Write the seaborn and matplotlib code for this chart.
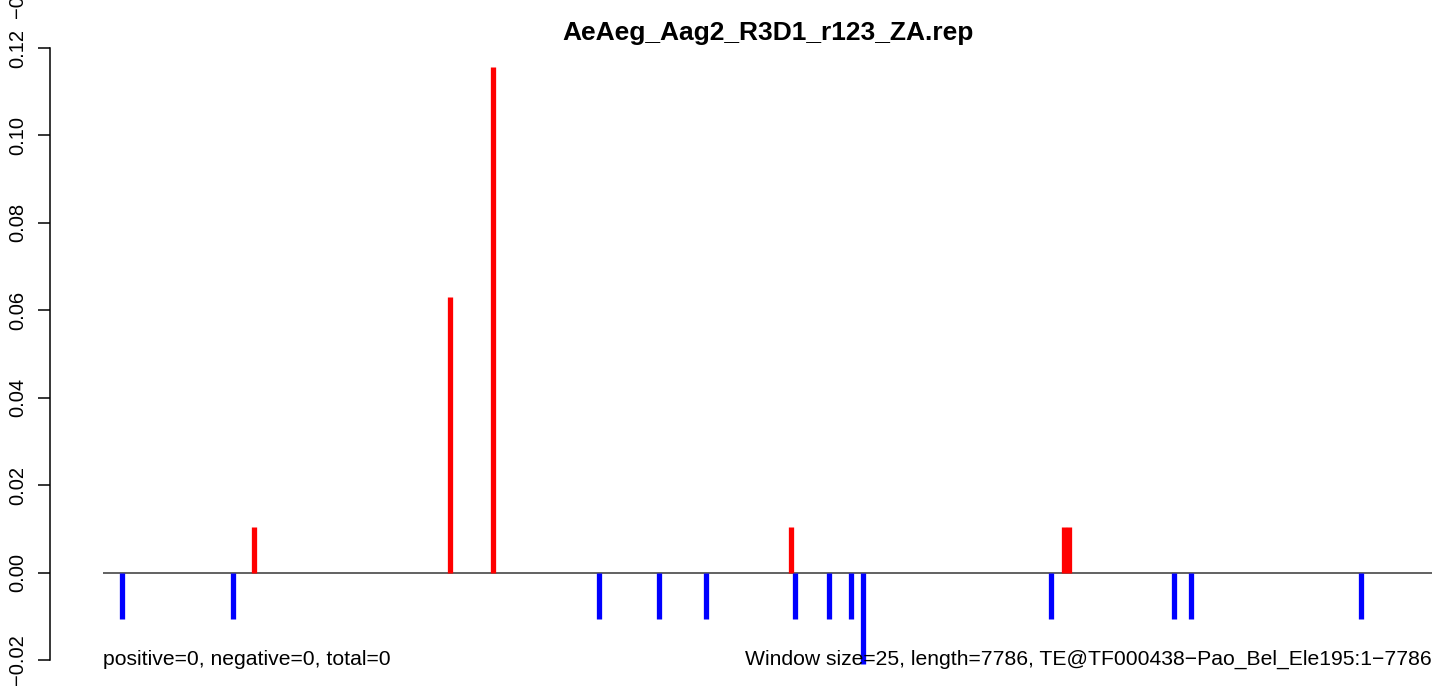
import matplotlib
matplotlib.use("Agg")
import matplotlib.pyplot as plt
import seaborn as sns

# windows along the TE (position, score)
pos_x = [887, 2035, 2287, 4033, 5628, 5657]
pos_y = [0.0104, 0.063, 0.1156, 0.0104, 0.0104, 0.0104]
neg_x = [114, 764, 2908, 3259, 3535, 4057, 4256, 4384, 4455, 5556, 6277, 6376, 7372]
neg_y = [-0.0107, -0.0107, -0.0107, -0.0107, -0.0107, -0.0107, -0.0107,
         -0.0107, -0.0210, -0.0107, -0.0107, -0.0107, -0.0107]
te_length = 7786
yticks = [-0.02, 0.00, 0.02, 0.04, 0.06, 0.08, 0.10, 0.12]

title = "AeAeg_Aag2_R3D1_r123_ZA.rep"
left_note = "positive=0, negative=0, total=0"
right_note = "Window size=25, length=7786, TE@TF000438\u2212Pao_Bel_Ele195:1\u22127786"

sns.set_style("white")
plt.rcParams["font.family"] = ["Liberation Sans", "DejaVu Sans"]
plt.rcParams["axes.unicode_minus"] = True
plt.rcParams["text.color"] = "black"
plt.rcParams["ytick.color"] = "black"
plt.rcParams["ytick.labelcolor"] = "black"

W, H = 1439, 687
fig = plt.figure(figsize=(W / 100, H / 100), dpi=100)
# axes spans px 50..1439 horizontally, full height
ax = fig.add_axes([50 / W, 0, (W - 50) / W, 1])

# x mapping: 1 -> px 103, length -> px 1432
ppu = (1432 - 103) / (te_length - 1)
ax.set_xlim(1 - 53 / ppu, te_length + (W - 1432) / ppu)
ypu = (660 - 48) / 0.14
ax.set_ylim(-0.02 - (H - 660) / ypu, 0.12 + 48 / ypu)

ax.hlines(0, 1, te_length, color="#555555", linewidth=1.3, zorder=1)
ax.vlines(pos_x, 0, pos_y, color="red", linewidth=3.8, capstyle="butt", zorder=2)
ax.vlines(neg_x, 0, neg_y, color="blue", linewidth=3.8, capstyle="butt", zorder=2)

sns.despine(ax=ax, top=True, right=True, bottom=True)
ax.spines["left"].set_bounds(-0.02, 0.12)
ax.spines["left"].set_linewidth(1.1)
ax.spines["left"].set_color("black")
ax.set_xticks([])
ax.set_yticks(yticks)
ax.set_yticklabels([f"{v:.2f}".replace("-", "\u2212") for v in yticks],
                   rotation=90, va="center", fontsize=14.5, color="black")
ax.tick_params(axis="y", length=8.6, width=1.1, pad=8, left=True, color="black")
ax.grid(False)

ax.text(1, -0.0211, left_note, ha="left", va="baseline", fontsize=15.2, color="black")
ax.text(te_length, -0.0211, right_note, ha="right", va="baseline", fontsize=15.2,
        color="black")
fig.text(768 / W, 1 - 33 / H, title, ha="center", va="center",
         fontsize=19, fontweight="bold", color="black")
fig.text(17 / W, 1 - 18 / H, "\u22120.02", rotation=90, ha="center", va="bottom",
         fontsize=14.5, color="black")

fig.savefig("out.png", dpi=100)
